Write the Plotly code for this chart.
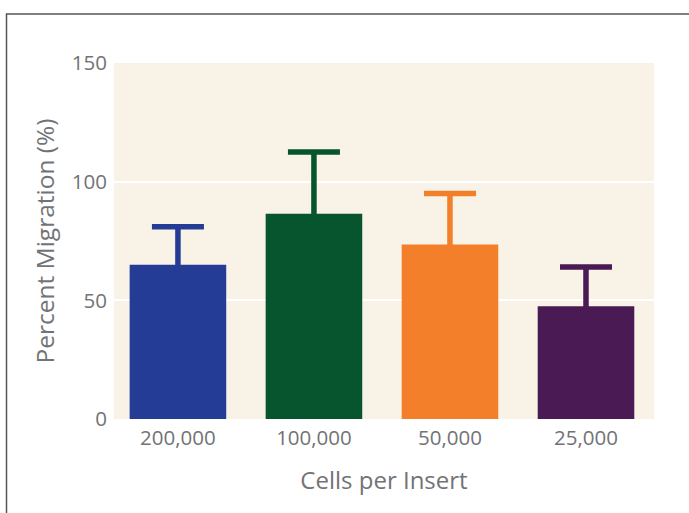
import plotly.graph_objects as go

categories = ["200,000", "100,000", "50,000", "25,000"]
means = [65, 86.5, 73.5, 47.5]
err_upper = [16, 26, 21.5, 16.5]
colors = ["#253c97", "#06552e", "#f47f2a", "#4a1a54"]

fig = go.Figure()
for cat, m, e, c in zip(categories, means, err_upper, colors):
    fig.add_trace(go.Bar(
        x=[cat], y=[m], width=0.71,
        marker=dict(color=c, line=dict(width=0)),
        error_y=dict(type="data", symmetric=True, array=[e],
                     color=c, thickness=5.5, width=26),
        showlegend=False,
    ))

font_family = "'Open Sans', sans-serif"
gray = "#727376"

fig.update_layout(
    width=689, height=513,
    margin=dict(l=114, r=35, t=63, b=94),
    paper_bgcolor="white",
    plot_bgcolor="#f9f2e7",
    barmode="overlay",
    font=dict(family=font_family, color=gray),
    xaxis=dict(
        categoryorder="array", categoryarray=categories,
        range=[-0.47, 3.5],
        showgrid=False, showline=False, zeroline=False,
        tickfont=dict(size=20.5, color=gray),
        ticklabelstandoff=4,
        title=dict(text="Cells per Insert", font=dict(size=24, color=gray), standoff=22),
        ticks="", ticklen=0,
    ),
    yaxis=dict(
        range=[0, 150], tickvals=[0, 50, 100, 150],
        showgrid=True, gridcolor="white", gridwidth=1.5,
        zeroline=False, showline=False,
        tickfont=dict(size=20.5, color=gray),
        ticklabelstandoff=6,
        title=dict(text="Percent Migration (%)", font=dict(size=24.5, color=gray), standoff=10),
        ticks="", ticklen=0,
    ),
    shapes=[dict(
        type="rect", xref="paper", yref="paper",
        x0=(6.5 - 114) / 540, x1=1.3,
        y0=-0.5, y1=1 + (63 - 14) / 356,
        line=dict(color="#555555", width=1.5),
        fillcolor="rgba(0,0,0,0)", layer="below",
    )],
)

fig.write_html("out.html", config={"displayModeBar": False},
               post_script="document.body.style.margin='0px';")
